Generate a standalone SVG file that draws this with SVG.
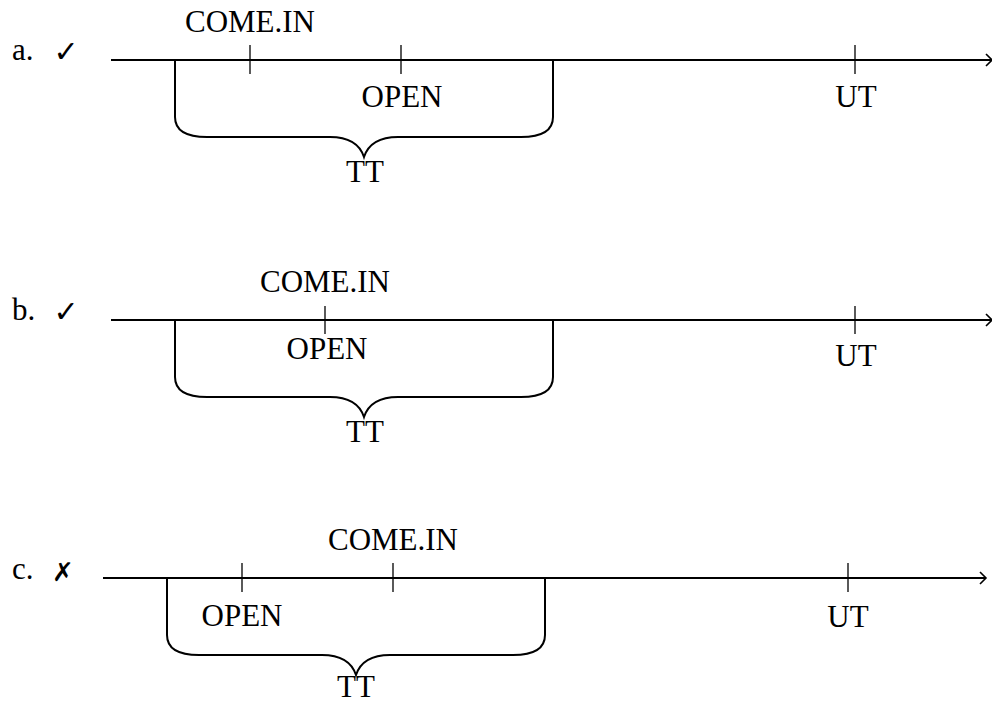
<svg xmlns="http://www.w3.org/2000/svg" width="992" height="705" viewBox="0 0 992 705">
  <defs>
    <style>
      .lbl { font-family: "Liberation Serif", "Times New Roman", serif; font-size: 31px; fill: #000; }
      .mid { text-anchor: middle; }
      .mark { font-family: "DejaVu Sans", sans-serif; fill: #000; text-anchor: middle; }
      .axis { stroke: #000; stroke-width: 2; fill: none; }
      .tick { stroke: #000; stroke-width: 1.3; fill: none; }
      .brace { stroke: #000; stroke-width: 2; fill: none; }
    </style>
    <marker id="arrow" markerUnits="userSpaceOnUse" markerWidth="12" markerHeight="14" refX="0" refY="0" viewBox="-8 -7 9 14" orient="auto">
      <path d="M -6 -6 L 0 0 L -6 6" fill="none" stroke="#000" stroke-width="1.6"/>
    </marker>
    <!-- brace spanning 378px, opening upward from y=0 -->
    <path id="brace" d="M 0 0 L 0 57 C 0 70 10 77 32 77 L 155 77 C 175 77 185 85 189 97 C 193 85 203 77 223 77 L 346 77 C 368 77 378 70 378 57 L 378 0"/>
  </defs>

  <!-- time axes -->
  <g id="axes">
    <line class="axis" x1="111" y1="60" x2="992" y2="60" marker-end="url(#arrow)"/>
    <line class="axis" x1="111" y1="320" x2="992" y2="320" marker-end="url(#arrow)"/>
    <line class="axis" x1="103" y1="578" x2="986" y2="578" marker-end="url(#arrow)"/>
  </g>

  <!-- a. -->
  <g id="row-a">
    <text class="lbl" x="12" y="60">a.</text>
    <text class="mark" x="66" y="62" font-size="30">✓</text>
    <use href="#brace" class="brace" x="175" y="60"/>
    <g id="a-comein">
      <line class="tick" x1="250" y1="45" x2="250" y2="74"/>
      <text class="lbl mid" x="250" y="32">COME.IN</text>
    </g>
    <g id="a-open">
      <line class="tick" x1="401" y1="45" x2="401" y2="74"/>
      <text class="lbl mid" x="402" y="107">OPEN</text>
    </g>
    <g id="a-ut">
      <line class="tick" x1="855" y1="45" x2="855" y2="74"/>
      <text class="lbl mid" x="856" y="107">UT</text>
    </g>
    <text class="lbl mid" x="365" y="182">TT</text>
  </g>

  <!-- b. -->
  <g id="row-b">
    <text class="lbl" x="12" y="320">b.</text>
    <text class="mark" x="66" y="322" font-size="30">✓</text>
    <use href="#brace" class="brace" x="175" y="320"/>
    <g id="b-comein-open">
      <line class="tick" x1="325" y1="306" x2="325" y2="334"/>
      <text class="lbl mid" x="325" y="292">COME.IN</text>
      <text class="lbl mid" x="327" y="359">OPEN</text>
    </g>
    <g id="b-ut">
      <line class="tick" x1="855" y1="306" x2="855" y2="334"/>
      <text class="lbl mid" x="856" y="366">UT</text>
    </g>
    <text class="lbl mid" x="365" y="442">TT</text>
  </g>

  <!-- c. -->
  <g id="row-c">
    <text class="lbl" x="12" y="579">c.</text>
    <text class="mark" x="63" y="581" font-size="26" font-weight="bold">✗</text>
    <use href="#brace" class="brace" x="167" y="578"/>
    <g id="c-open">
      <line class="tick" x1="242" y1="563" x2="242" y2="592"/>
      <text class="lbl mid" x="242" y="626">OPEN</text>
    </g>
    <g id="c-comein">
      <line class="tick" x1="393" y1="563" x2="393" y2="592"/>
      <text class="lbl mid" x="393" y="550">COME.IN</text>
    </g>
    <g id="c-ut">
      <line class="tick" x1="848" y1="563" x2="848" y2="592"/>
      <text class="lbl mid" x="848" y="627">UT</text>
    </g>
    <text class="lbl mid" x="356" y="697">TT</text>
  </g>
</svg>
